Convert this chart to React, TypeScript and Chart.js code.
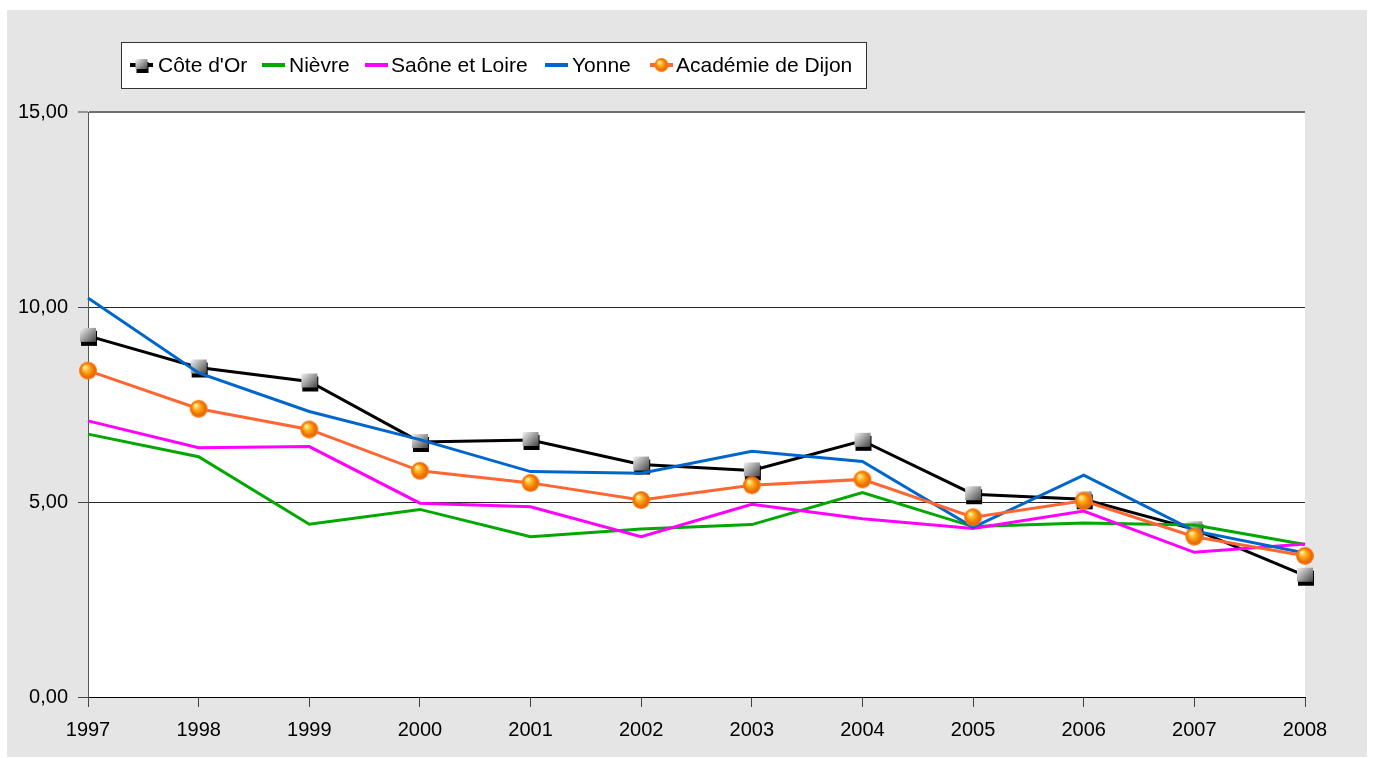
import React, { useEffect, useRef } from "react";
import { Chart, registerables } from "chart.js";

Chart.register(...registerables);

const years = ["1997", "1998", "1999", "2000", "2001", "2002", "2003", "2004", "2005", "2006", "2007", "2008"];
const coteDOr = [9.26, 8.45, 8.09, 6.54, 6.59, 5.96, 5.81, 6.57, 5.2, 5.07, 4.3, 3.11];
const nievre = [6.74, 6.16, 4.43, 4.81, 4.11, 4.31, 4.42, 5.24, 4.37, 4.46, 4.41, 3.91];
const saone = [7.08, 6.39, 6.42, 4.97, 4.88, 4.11, 4.94, 4.57, 4.32, 4.77, 3.71, 3.92];
const yonne = [10.23, 8.31, 7.32, 6.6, 5.78, 5.74, 6.3, 6.04, 4.35, 5.69, 4.26, 3.69];
const academie = [8.37, 7.39, 6.86, 5.8, 5.49, 5.05, 5.43, 5.58, 4.61, 5.03, 4.11, 3.62];

const seriesNames = ["Côte d'Or", "Nièvre", "Saône et Loire", "Yonne", "Académie de Dijon"];
const seriesColors = ["#000000", "#00a800", "#ff00ff", "#0066cc", "#ff6633"];
const yTicks = [0, 5, 10, 15];

const FONT = "'Liberation Sans', Arial, sans-serif";

function makeSquare(size: number): HTMLCanvasElement {
  const c = document.createElement("canvas");
  const s = size + 6;
  c.width = s;
  c.height = s;
  const ctx = c.getContext("2d")!;
  const o = 3;
  ctx.fillStyle = "#000";
  ctx.fillRect(o + 1, o + 3, size, size - 1);
  const g = ctx.createLinearGradient(o, o, o + size, o + size);
  g.addColorStop(0, "#f4f4f4");
  g.addColorStop(0.45, "#a0a0a0");
  g.addColorStop(1, "#3a3a3a");
  ctx.fillStyle = g;
  ctx.fillRect(o, o, size, size - 2);
  return c;
}

function makeSphere(d: number): HTMLCanvasElement {
  const c = document.createElement("canvas");
  const s = d + 4;
  c.width = s;
  c.height = s;
  const ctx = c.getContext("2d")!;
  const cx = s / 2;
  const r = d / 2;
  ctx.fillStyle = "#ff7a1a";
  ctx.beginPath();
  ctx.arc(cx, cx, r, 0, Math.PI * 2);
  ctx.fill();
  const g = ctx.createRadialGradient(cx - r * 0.35, cx - r * 0.4, r * 0.1, cx, cx, r * 0.9);
  g.addColorStop(0, "#fff0a0");
  g.addColorStop(0.35, "#ffb020");
  g.addColorStop(0.75, "#f07800");
  g.addColorStop(1, "#e06000");
  ctx.fillStyle = g;
  ctx.beginPath();
  ctx.arc(cx, cx, r - 1.2, 0, Math.PI * 2);
  ctx.fill();
  return c;
}

export default function App() {
  const ref = useRef<HTMLCanvasElement | null>(null);

  useEffect(() => {
    document.body.style.margin = "0";
    const canvas = ref.current!;
    const square = makeSquare(16);
    const sphere = makeSphere(18);
    const squareSmall = makeSquare(12);
    const sphereSmall = makeSphere(14);

    const dataArrays = [coteDOr, nievre, saone, yonne, academie];
    const markers: (HTMLCanvasElement | null)[] = [square, null, null, null, sphere];
    const legendMarkers: (HTMLCanvasElement | null)[] = [squareSmall, null, null, null, sphereSmall];
    const legendSymbolX = [130, 262, 365, 545, 650];
    const legendTextX = [158, 289, 391, 572, 676];

    const bgPlugin = {
      id: "bg",
      beforeDraw(chart: any) {
        const ctx = chart.ctx;
        ctx.save();
        ctx.fillStyle = "#ffffff";
        ctx.fillRect(0, 0, chart.width, chart.height);
        ctx.fillStyle = "#e5e5e5";
        ctx.fillRect(7, 10, 1360, 747);
        const a = chart.chartArea;
        ctx.fillStyle = "#ffffff";
        ctx.fillRect(a.left, a.top, a.right - a.left, a.bottom - a.top);
        ctx.restore();
      },
    };

    const legendPlugin = {
      id: "customLegend",
      afterDraw(chart: any) {
        const ctx = chart.ctx;
        ctx.save();
        const bx = 121.5, by = 42.5, bw = 745, bh = 46;
        ctx.fillStyle = "#ffffff";
        ctx.fillRect(bx, by, bw, bh);
        ctx.strokeStyle = "#333";
        ctx.lineWidth = 1;
        ctx.strokeRect(bx, by, bw, bh);
        ctx.font = `21px ${FONT}`;
        ctx.textBaseline = "middle";
        const cy = 65;
        for (let i = 0; i < seriesNames.length; i++) {
          const x = legendSymbolX[i];
          ctx.strokeStyle = seriesColors[i];
          ctx.lineWidth = 4;
          ctx.beginPath();
          ctx.moveTo(x, cy);
          ctx.lineTo(x + 23, cy);
          ctx.stroke();
          const m = legendMarkers[i];
          if (m) {
            ctx.drawImage(m, x + 11.5 - m.width / 2, cy - m.height / 2);
          }
          ctx.fillStyle = "#000";
          ctx.fillText(seriesNames[i], legendTextX[i], cy + 1);
        }
        ctx.restore();
      },
    };

    const chart = new Chart(canvas, {
      type: "line",
      data: {
        labels: years,
        datasets: dataArrays.map((d, i) => ({
          label: seriesNames[i],
          data: d,
          borderColor: seriesColors[i],
          backgroundColor: seriesColors[i],
          borderWidth: 3,
          tension: 0,
          fill: false,
          clip: false as any,
          order: 4 - i,
          pointStyle: markers[i] ? (markers[i] as any) : "circle",
          pointRadius: markers[i] ? 8 : 0,
          pointHoverRadius: markers[i] ? 8 : 0,
        })),
      },
      options: {
        responsive: false,
        animation: false,
        events: [],
        layout: { padding: { left: 0, right: 68, top: 112, bottom: 0 } },
        plugins: {
          legend: { display: false },
          tooltip: { enabled: false },
          title: { display: false },
        },
        scales: {
          x: {
            type: "category",
            offset: false,
            afterFit: (scale: any) => {
              scale.height = 61;
            },
            grid: {
              drawOnChartArea: false,
              drawTicks: true,
              tickLength: 10,
              tickColor: "#444",
              tickWidth: 1,
            },
            border: { display: true, color: "#000", width: 1 },
            ticks: {
              color: "#000",
              font: { family: FONT, size: 20 },
              padding: 11,
              maxRotation: 0,
              autoSkip: false,
            },
          },
          y: {
            min: 0,
            max: 15,
            afterFit: (scale: any) => {
              scale.width = 88;
            },
            afterBuildTicks: (scale: any) => {
              scale.ticks = yTicks.map((v) => ({ value: v }));
            },
            grid: {
              color: (c: any) => (c.tick && c.tick.value === 15 ? "#707070" : c.tick && c.tick.value === 0 ? "#000" : "#2a2a2a"),
              lineWidth: (c: any) => (c.tick && c.tick.value === 15 ? 2 : 1),
              drawTicks: true,
              tickLength: 10,
              tickColor: "#444",
              tickWidth: 1,
            },
            border: { display: true, color: "#555", width: 1 },
            ticks: {
              color: "#000",
              font: { family: FONT, size: 20 },
              padding: 10,
              callback: (v: any) => Number(v).toFixed(2).replace(".", ","),
            },
          },
        },
      },
      plugins: [bgPlugin, legendPlugin],
    });

    return () => {
      chart.destroy();
    };
  }, []);

  return <canvas ref={ref} width={1373} height={758} style={{ display: "block" }} />;
}
